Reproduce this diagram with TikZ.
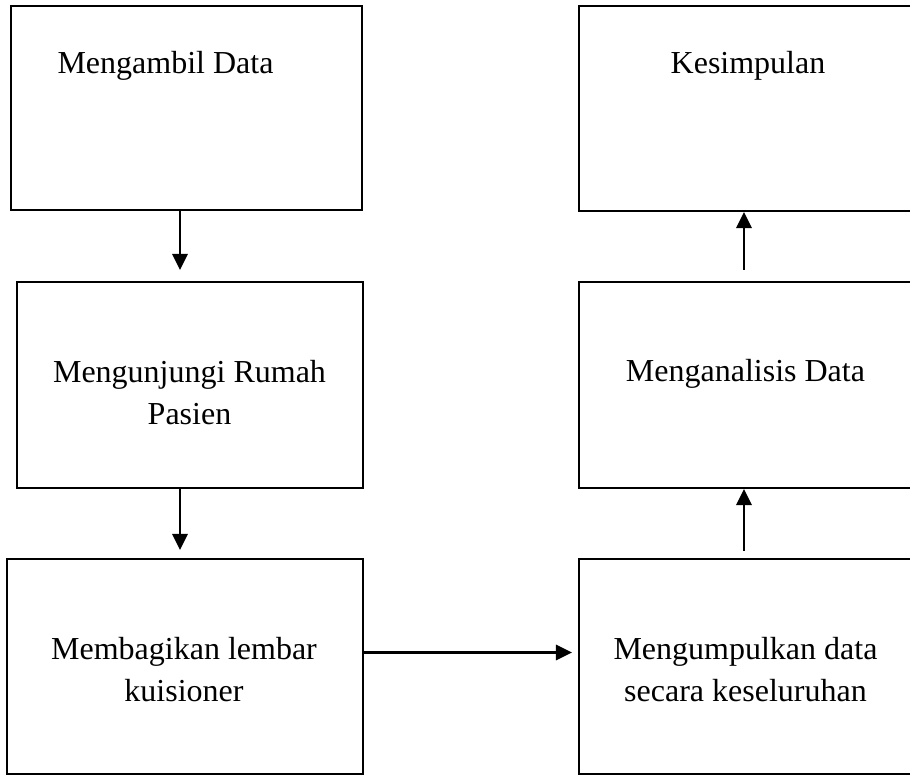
\documentclass[tikz,border=0pt]{standalone}
\usepackage{fontspec}
\setmainfont{Liberation Serif}
\usetikzlibrary{arrows.meta}

\begin{document}
\begin{tikzpicture}[
                x=0.75pt, y=-0.75pt,
                box/.style={draw=black, line width=1.6pt, inner sep=0pt},
                caption/.style={font=\fontsize{24pt}{31pt}\selectfont,
                    inner sep=0pt, align=center, anchor=base},
                flow/.style={draw=black, line width=1.6pt,
                    -{Triangle[length=12pt,width=11.5pt]}}]
        % Page frame; the right column runs past the edge and is cut off there.
        \useasboundingbox (0,0) rectangle (910,776);
        \clip (0,0) rectangle (910,776);

        % Step boxes: name/centre x/centre y/width/height.
        \foreach \n/\cx/\cy/\w/\h in {%
                take/186.5/108/263.25/153,
                visit/190/385/259.5/154.5,
                hand/185/666.5/267/161.25,
                conclude/745.5/108.5/249.75/153.75,
                analyse/745.5/385/249.75/154.5,
                collect/745.5/666.5/249.75/161.25} {
                \node[box, minimum width=\w pt, minimum height=\h pt] (\n) at (\cx,\cy) {};
        }

        % Box texts, set on their (last) baselines.
        \node[caption] (takeText) at (165.5,73) {Mengambil Data};
        \node[caption] (visitText) at (189.5,424) {Mengunjungi Rumah\\Pasien};
        \node[caption] (handText) at (184,701) {Membagikan lembar\\kuisioner};
        \node[caption] (concludeText) at (748,73) {Kesimpulan};
        \node[caption] (analyseText) at (745.5,381) {Menganalisis Data};
        \node[caption] (collectText) at (745.5,701) {Mengumpulkan data\\secara keseluruhan};

        % Down the left column, across, then up the right column.
        \draw[flow, shorten >=8.25pt] ([xshift=-4.9pt]take.south) -- ([xshift=-4.9pt]take.south |- visit.north);
        \draw[flow, shorten >=6pt] ([xshift=-7.5pt]visit.south) -- ([xshift=-7.5pt]visit.south |- hand.north);
        \draw[flow, shorten >=4.5pt] ([yshift=10.5pt]hand.east) -- ([yshift=10.5pt]hand.east -| collect.west);
        \draw[flow, shorten <=5.25pt] ([xshift=-1.1pt]collect.north) -- ([xshift=-1.1pt]collect.north |- analyse.south);
        \draw[flow, shorten <=8.25pt] ([xshift=-1.1pt]analyse.north) -- ([xshift=-1.1pt]analyse.north |- conclude.south);
\end{tikzpicture}
\end{document}
